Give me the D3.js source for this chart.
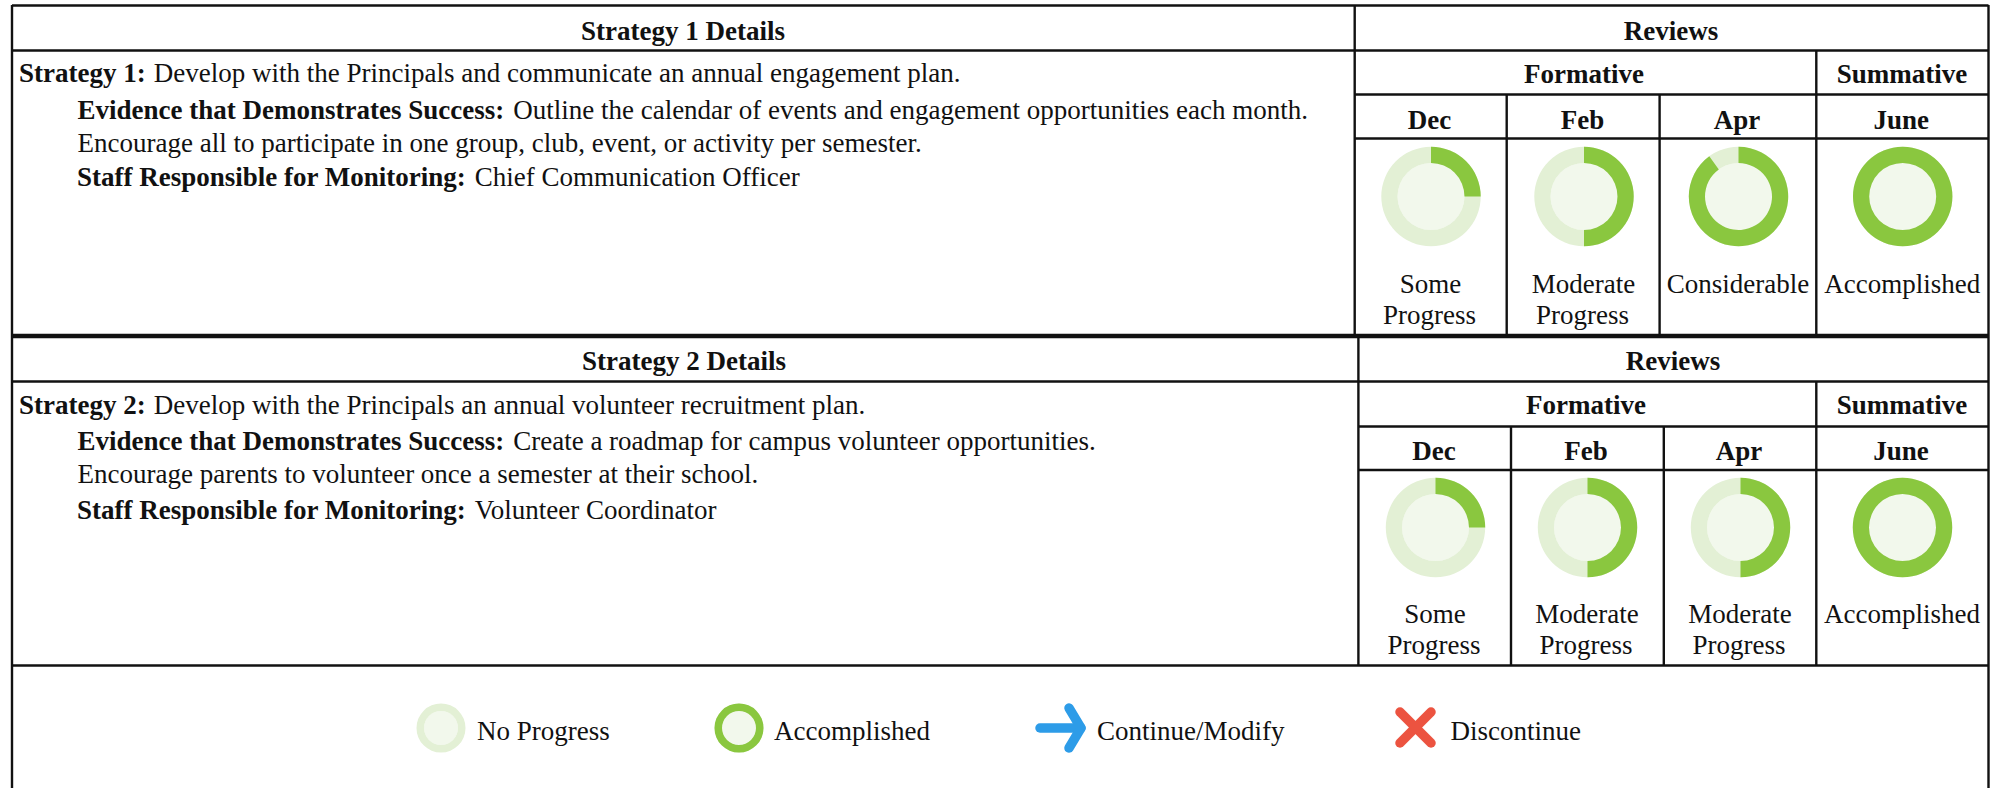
<!DOCTYPE html>
<html><head><meta charset="utf-8">
<script src="https://cdn.jsdelivr.net/npm/d3@7/dist/d3.min.js"></script>
<style>html,body{margin:0;padding:0;background:#fff}svg{display:block}text{font-family:"Liberation Serif",serif;fill:#111}</style>
</head><body><svg id="c" width="1997" height="788"></svg>
<script>
const months = ["Dec","Feb","Apr","June"];
const strategyTitles = ["Strategy 1 Details","Strategy 2 Details"];
const strategyLabels = ["Strategy 1:","Strategy 2:"];
const strategyTexts = ["Develop with the Principals and communicate an annual engagement plan.","Develop with the Principals an annual volunteer recruitment plan."];
const evidenceTexts = ["Outline the calendar of events and engagement opportunities each month.","Create a roadmap for campus volunteer opportunities."];
const evidenceLine2 = ["Encourage all to participate in one group, club, event, or activity per semester.","Encourage parents to volunteer once a semester at their school."];
const staffTexts = ["Chief Communication Officer","Volunteer Coordinator"];
const progress1 = [25,50,90,100];
const progress2 = [25,50,50,100];
const labels1 = [["Some","Progress"],["Moderate","Progress"],["Considerable"],["Accomplished"]];
const labels2 = [["Some","Progress"],["Moderate","Progress"],["Moderate","Progress"],["Accomplished"]];
const legendLabels = ["No Progress","Accomplished","Continue/Modify","Discontinue"];
const legendProgress = [0,100];

const GREEN="#8AC73F",LIGHT="#E3F0D5",INNER="#F2F8EC",BLUE="#2D9CE8",RED="#EC5340",INK="#111";
const FS=27, L=12, R=1988.5;
const svg=d3.select("#c");
const angle=d3.scaleLinear().domain([0,100]).range([0,2*Math.PI]);

function ring(g,cx,cy,r0,r1,p){
  const n=g.append("g").attr("transform",`translate(${cx},${cy})`);
  n.append("circle").attr("r",r0).attr("fill",INNER);
  const a=d3.arc().innerRadius(r0).outerRadius(r1).startAngle(0);
  n.append("path").attr("d",a({endAngle:2*Math.PI})).attr("fill",LIGHT);
  if(p>0)n.append("path").attr("d",a({endAngle:angle(p)})).attr("fill",GREEN);
}
function text(g,x,y,s,o={}){
  return g.append("text").attr("x",x).attr("y",y).attr("font-size",o.fs||FS)
    .attr("font-weight",o.bold?"bold":null).attr("text-anchor",o.anchor||"start").text(s);
}
function line(g,x1,y1,x2,y2,w=2.4){
  g.append("line").attr("x1",x1).attr("y1",y1).attr("x2",x2).attr("y2",y2).attr("stroke",INK).attr("stroke-width",w);
}
function mixed(g,x,y,b,t,gap){
  const n=text(g,x,y,b,{bold:true});
  const w=n.node().getComputedTextLength();
  text(g,x+w+gap,y,t);
}

const tables=[
 {i:0,top:5.5,h1:50.5,h2:94.5,h3:138.5,bot:335,split:1354.7,xs:[1354.7,1506.7,1659.6,1816.3,R],cx:[1431,1584,1738.5,1902.7],cy:196.5,prog:progress1,lab:labels1,titleX:683,revX:1671,formX:1584,sumX:1902,off:[34,32,34,154],left:[82,119,152,186]},
 {i:1,top:337,h1:381.5,h2:426.5,h3:470,bot:665.5,split:1358.4,xs:[1358.4,1511,1663.8,1816.3,R],cx:[1435.5,1587.5,1740.5,1902.5],cy:527.5,prog:progress2,lab:labels2,titleX:684,revX:1673,formX:1586,sumX:1902,off:[33,32,33,153],left:[414,450,483,519]}
];
tables.forEach(t=>{
  const g=svg.append("g");
  line(g,L,t.top,R,t.top); line(g,L,t.h1,R,t.h1);
  line(g,t.split,t.h2,R,t.h2); line(g,t.split,t.h3,R,t.h3); line(g,L,t.bot,R,t.bot);
  line(g,t.split,t.top,t.split,t.bot);
  line(g,t.xs[3],t.h1,t.xs[3],t.bot);
  line(g,t.xs[1],t.h2,t.xs[1],t.bot);
  line(g,t.xs[2],t.h2,t.xs[2],t.bot);
  text(g,t.titleX,t.top+t.off[0],strategyTitles[t.i],{bold:true,anchor:"middle"});
  text(g,t.revX,t.top+t.off[0],"Reviews",{bold:true,anchor:"middle"});
  text(g,t.formX,t.h1+t.off[1],"Formative",{bold:true,anchor:"middle"});
  text(g,t.sumX,t.h1+t.off[1],"Summative",{bold:true,anchor:"middle"});
  months.forEach((m,j)=>{
    text(g,t.cx[j]-1.5,t.h2+t.off[2],m,{bold:true,anchor:"middle"});
    ring(g,t.cx[j],t.cy,33.5,49.7,t.prog[j]);
    t.lab[j].forEach((s,k)=>text(g,t.cx[j]-(k?1.5:0.5),t.h3+t.off[3]+k*31,s,{anchor:"middle"}));
  });
  mixed(g,19,t.left[0],strategyLabels[t.i],strategyTexts[t.i],8);
  mixed(g,77.5,t.left[1],"Evidence that Demonstrates Success:",evidenceTexts[t.i],9);
  text(g,77.5,t.left[2],evidenceLine2[t.i]);
  mixed(g,77,t.left[3],"Staff Responsible for Monitoring:",staffTexts[t.i],9);
});
// outer frame and legend
const lg=svg.append("g");
line(lg,L,5,L,788); line(lg,R,5,R,788);
const legY=728;
[441,739].forEach((x,i)=>ring(lg,x,legY,17,24.5,legendProgress[i]));
const ar=lg.append("g").attr("fill","none").attr("stroke",BLUE).attr("stroke-width",9.5).attr("stroke-linecap","round").attr("stroke-linejoin","round");
ar.append("path").attr("d",`M1040,${legY}H1081`);
ar.append("path").attr("d",`M1069,${legY-20}L1081,${legY}L1069,${legY+20}`);
const xg=lg.append("g").attr("stroke",RED).attr("stroke-width",9.5).attr("stroke-linecap","round");
xg.append("line").attr("x1",1400).attr("y1",712).attr("x2",1431).attr("y2",743);
xg.append("line").attr("x1",1431).attr("y1",712).attr("x2",1400).attr("y2",743);
[477,774,1097,1450.5].forEach((x,i)=>text(lg,x,legY+11.5,legendLabels[i]));
</script></body></html>
